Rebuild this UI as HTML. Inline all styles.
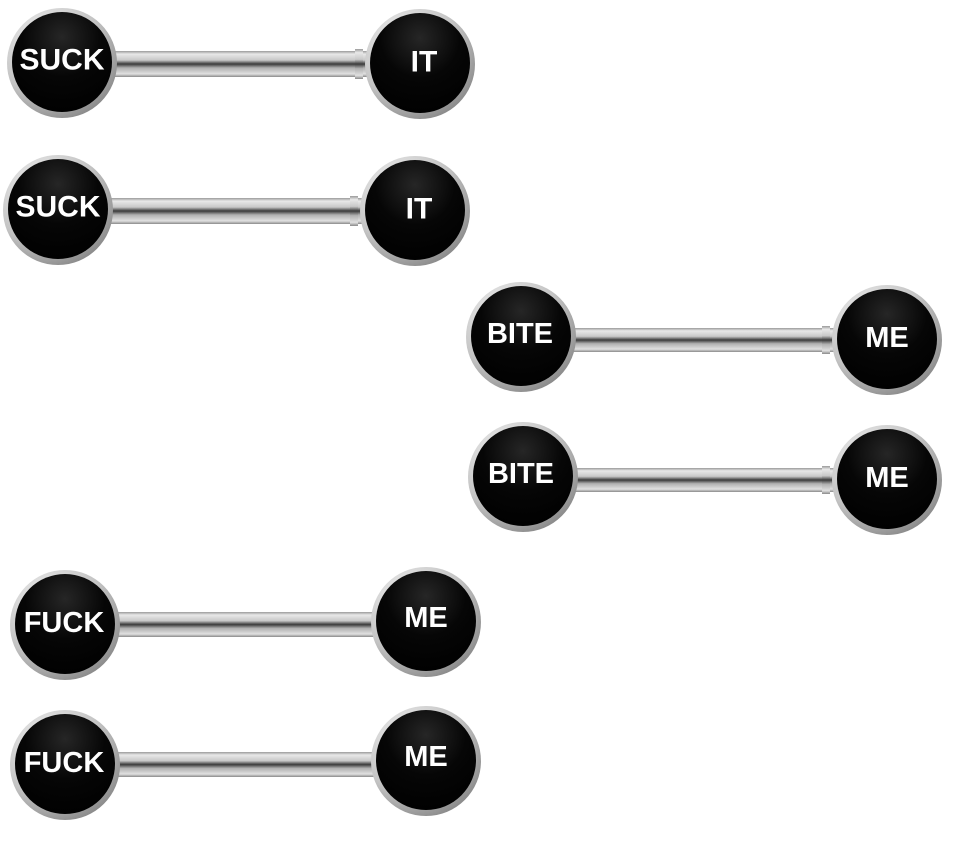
<!DOCTYPE html>
<html><head><style>html,body{margin:0;padding:0;background:#fff}svg{display:block}text{font-family:"Liberation Sans",Arial,sans-serif;font-weight:bold;fill:#fff;text-anchor:middle;dominant-baseline:central}</style></head><body>
<svg width="954" height="842" viewBox="0 0 954 842" xmlns="http://www.w3.org/2000/svg">
<defs>
<radialGradient id="ring" cx="0.35" cy="0.3" r="0.8">
<stop offset="0" stop-color="#f4f4f4"/><stop offset="0.6" stop-color="#c4c4c4"/><stop offset="1" stop-color="#808080"/></radialGradient>
<radialGradient id="blk" cx="0.5" cy="0.25" r="0.8">
<stop offset="0" stop-color="#262626"/><stop offset="0.5" stop-color="#060606"/><stop offset="1" stop-color="#000"/></radialGradient>
<linearGradient id="bar" x1="0" y1="0" x2="0" y2="1">
<stop offset="0" stop-color="#9a9a9a"/><stop offset="0.12" stop-color="#e8e8e8"/><stop offset="0.35" stop-color="#c8c8c8"/><stop offset="0.5" stop-color="#3a3a3a"/><stop offset="0.65" stop-color="#b0b0b0"/><stop offset="0.88" stop-color="#e0e0e0"/><stop offset="1" stop-color="#8a8a8a"/></linearGradient>
<g id="ball"><circle r="55" fill="url(#ring)"/><circle r="50" cy="-1" fill="url(#blk)"/></g>
</defs>

<!-- 1 -->
<rect x="110" y="51" width="260" height="26" fill="url(#bar)"/>
<rect x="355" y="49" width="8" height="30" fill="url(#bar)"/>
<use href="#ball" x="62" y="63"/><use href="#ball" x="420" y="64"/>
<text x="62" y="60" font-size="30">SUCK</text><text x="424" y="62" font-size="30">IT</text>
<!-- 2 -->
<rect x="106" y="198" width="260" height="26" fill="url(#bar)"/>
<rect x="350" y="196" width="8" height="30" fill="url(#bar)"/>
<use href="#ball" x="58" y="210"/><use href="#ball" x="415" y="211"/>
<text x="58" y="207" font-size="30">SUCK</text><text x="419" y="209" font-size="30">IT</text>
<!-- 3 -->
<rect x="566" y="328" width="274" height="24" fill="url(#bar)"/>
<rect x="822" y="326" width="8" height="28" fill="url(#bar)"/>
<use href="#ball" x="521" y="337"/><use href="#ball" x="887" y="340"/>
<text x="520" y="334" font-size="29">BITE</text><text x="887" y="338" font-size="29">ME</text>
<!-- 4 -->
<rect x="566" y="468" width="274" height="24" fill="url(#bar)"/>
<rect x="822" y="466" width="8" height="28" fill="url(#bar)"/>
<use href="#ball" x="523" y="477"/><use href="#ball" x="887" y="480"/>
<text x="521" y="474" font-size="29">BITE</text><text x="887" y="478" font-size="29">ME</text>
<!-- 5 -->
<rect x="115" y="612" width="265" height="25" fill="url(#bar)"/>
<use href="#ball" x="65" y="625"/><use href="#ball" x="426" y="622"/>
<text x="64" y="623" font-size="29">FUCK</text><text x="426" y="618" font-size="29">ME</text>
<!-- 6 -->
<rect x="115" y="752" width="265" height="25" fill="url(#bar)"/>
<use href="#ball" x="65" y="765"/><use href="#ball" x="426" y="761"/>
<text x="64" y="763" font-size="29">FUCK</text><text x="426" y="757" font-size="29">ME</text>
</svg>
</body></html>
